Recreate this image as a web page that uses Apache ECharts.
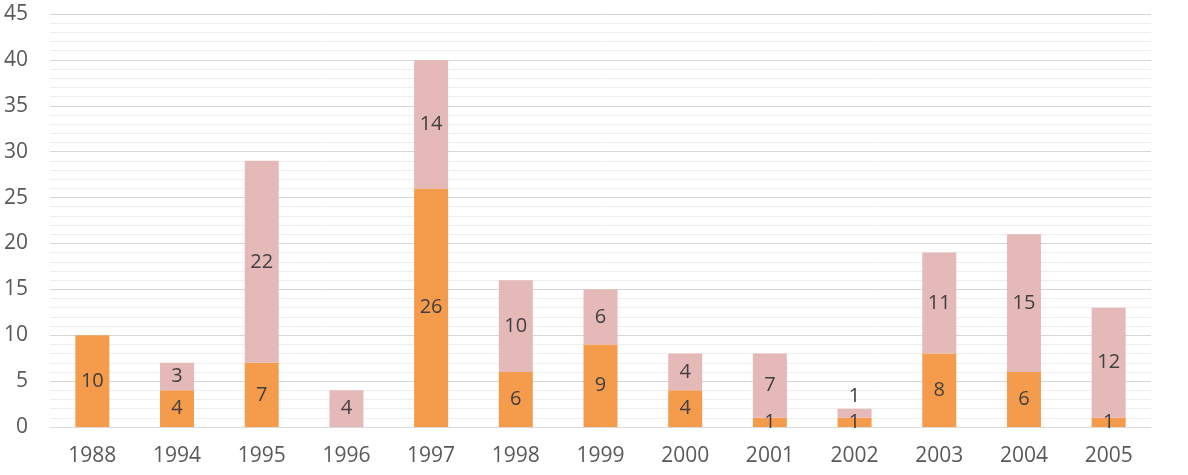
<!DOCTYPE html>
<html><head><meta charset="utf-8">
<script src="https://cdn.jsdelivr.net/npm/echarts@6/dist/echarts.min.js"></script>
<style>html,body{margin:0;padding:0;background:#fff}#c{width:1188px;height:475px}</style>
</head><body><div id="c"></div>
<script>
const categories = ['1988','1994','1995','1996','1997','1998','1999','2000','2001','2002','2003','2004','2005'];
const seriesA = [10,4,7,0,26,6,9,4,1,1,8,6,1];
const seriesB = [0,3,22,4,14,10,6,4,7,1,11,15,12];
const yTicks = [0,5,10,15,20,25,30,35,40,45];

const chart = echarts.init(document.getElementById('c'));
const font = '"Open Sans", "Noto Sans", sans-serif';
const lbl = {show:true, position:'inside', color:'#404040', fontSize:20, fontFamily:font,
  formatter: p => p.value ? String(p.value) : ''};
const dataB = seriesB.map((v,i) => (v > 0 && v < 2) ? {value:v, label:{position:'top', distance:2}} : v);
chart.setOption({
  animation:false,
  grid:{left:50, right:37, top:14, bottom:48},
  xAxis:{type:'category', data:categories,
    axisLine:{lineStyle:{color:'#d9d9d9'}}, axisTick:{show:false},
    axisLabel:{color:'#595959', fontSize:21, fontFamily:font, margin:19}},
  yAxis:{type:'value', min:yTicks[0], max:yTicks[yTicks.length-1], interval:5,
    axisLabel:{color:'#595959', fontSize:21, fontFamily:font, margin:22},
    splitLine:{lineStyle:{color:'#d6d6d6', width:1}},
    minorTick:{show:false, splitNumber:5},
    minorSplitLine:{show:true, lineStyle:{color:'#eeeeee', width:1}}},
  series:[
    {type:'bar', stack:'s', data:seriesA, barWidth:34, itemStyle:{color:'#F59B4C'}, label:lbl},
    {type:'bar', stack:'s', data:dataB, barWidth:34, itemStyle:{color:'#E5B9B8'}, label:lbl}
  ]
});
</script></body></html>
